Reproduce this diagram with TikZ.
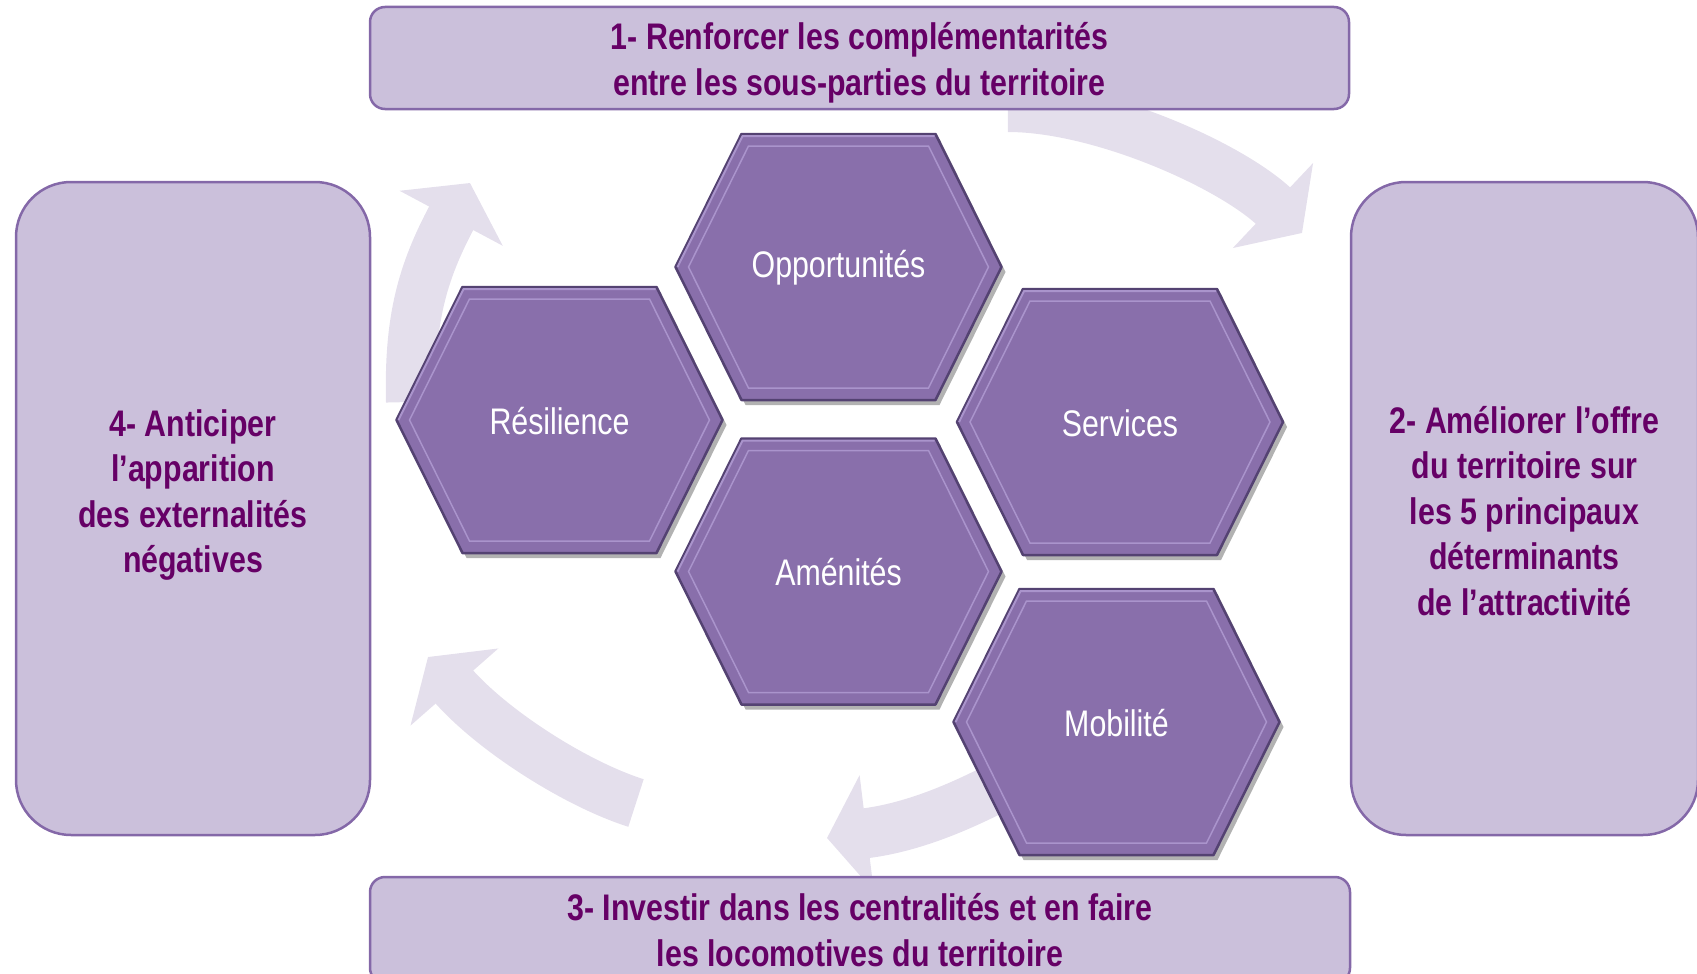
\documentclass[tikz,border=0pt]{standalone}
\usepackage{fontspec}
\usetikzlibrary{arrows.meta}
\newfontfamily\narrowfont[FakeStretch=0.82]{Liberation Sans}

\definecolor{boxfill}{RGB}{203,192,219}
\definecolor{boxline}{RGB}{132,104,168}
\definecolor{goaltxt}{RGB}{102,0,102}
\definecolor{arrowfill}{RGB}{228,223,236}
\definecolor{hexfill}{RGB}{137,111,171}
\definecolor{hexdark}{RGB}{84,66,114}
\definecolor{hexlight}{RGB}{170,148,204}

% flat-top hexagon around (#1,#2)
\newcommand{\hexpath}[2]{(#1-163,#2) -- (#1-97,#2-133) -- (#1+97,#2-133) -- (#1+163,#2) -- (#1+97,#2+133) -- (#1-97,#2+133) -- cycle}
\newcommand{\hexinner}[2]{(#1-150,#2) -- (#1-90,#2-121) -- (#1+90,#2-121) -- (#1+150,#2) -- (#1+90,#2+121) -- (#1-90,#2+121) -- cycle}
\newcommand{\hexcell}[4]{%
  \fill[hexshadow] \hexpath{#2+4}{#3+5};
  \filldraw[hexbody] \hexpath{#2}{#3};
  \draw[hexhigh] (#2-161,#3) -- (#2-96,#3-131) -- (#2+96,#3-131);
  \draw[hexbevel] \hexinner{#2}{#3};
  \node[hexlabel] (#1) at (#2,#3) {#4};
}

\begin{document}
\begin{tikzpicture}[x=1pt,y=-1pt,
    goalbox/.style={rectangle,fill=boxfill,draw=boxline,line width=2.5pt,inner sep=0pt},
    goaltext/.style={text=goaltxt,align=center,font=\narrowfont\bfseries\fontsize{37}{45.5}\selectfont},
    cyclearrow/.style={draw=arrowfill,line width=50pt,-{Triangle[length=40pt,width=115pt]}},
    hexshadow/.style={fill=black,opacity=0.3},
    hexbody/.style={fill=hexfill,draw=hexdark,line width=2.5pt,line join=round},
    hexhigh/.style={draw=hexlight,line width=2pt,line join=round},
    hexbevel/.style={draw=hexlight,line width=1.5pt},
    hexlabel/.style={text=white,yshift=-1pt,font=\narrowfont\fontsize{37}{40}\selectfont}]
  \useasboundingbox (0,0) rectangle (1697,974);
  \clip (0,0) rectangle (1697,974);

  % ends of the cycle arrows
  \coordinate (a1s) at (1008,107);  \coordinate (a1e) at (1302,233);
  \coordinate (a2s) at (1030,770);  \coordinate (a2e) at (827,838);
  \coordinate (a3s) at (636,803);   \coordinate (a3e) at (428,657);
  \coordinate (a4s) at (411,402);   \coordinate (a4e) at (470,183);

  \draw[cyclearrow] (a1s) .. controls (1100,107) and (1230,165) .. (a1e);
  \draw[cyclearrow] (a2s) .. controls (985,795) and (925,826) .. (a2e);
  \draw[cyclearrow] (a3s) .. controls (576,784) and (493,731) .. (a3e);
  \draw[cyclearrow] (a4s) .. controls (409,320) and (422,273) .. (a4e);

  % the four goals
  \node[goalbox,rounded corners=15pt,minimum width=979pt,minimum height=102pt] (renforcer) at (859.5,58) {};
  \node[goaltext] (renforcer text) at (859.5,63)
    {1- Renforcer les complémentarités\\entre les sous-parties du territoire};
  \node[goalbox,rounded corners=55pt,minimum width=347pt,minimum height=653pt] (ameliorer) at (1524.5,508.5) {};
  \node[goaltext] (ameliorer text) at (1524.5,511)
    {2- Améliorer l’offre\\du territoire sur\\les 5 principaux\\déterminants\\de l’attractivité};
  \node[goalbox,goaltext,rounded corners=15pt,minimum width=980pt,minimum height=106pt] (investir) at (860,930)
    {3- Investir dans les centralités et en faire\\les locomotives du territoire};
  \node[goalbox,rounded corners=55pt,minimum width=354pt,minimum height=653pt] (anticiper) at (193,508.5) {};
  \node[goaltext] (anticiper text) at (193,495)
    {4- Anticiper\\l’apparition\\des externalités\\négatives};

  % determinants
  \hexcell{opportunites}{838.5}{267}{Opportunités}
  \hexcell{resilience}{559.5}{420}{Résilience}
  \hexcell{services}{1120}{422}{Services}
  \hexcell{amenites}{838.5}{571.5}{Aménités}
  \hexcell{mobilite}{1116.5}{722}{Mobilité}
\end{tikzpicture}
\end{document}
